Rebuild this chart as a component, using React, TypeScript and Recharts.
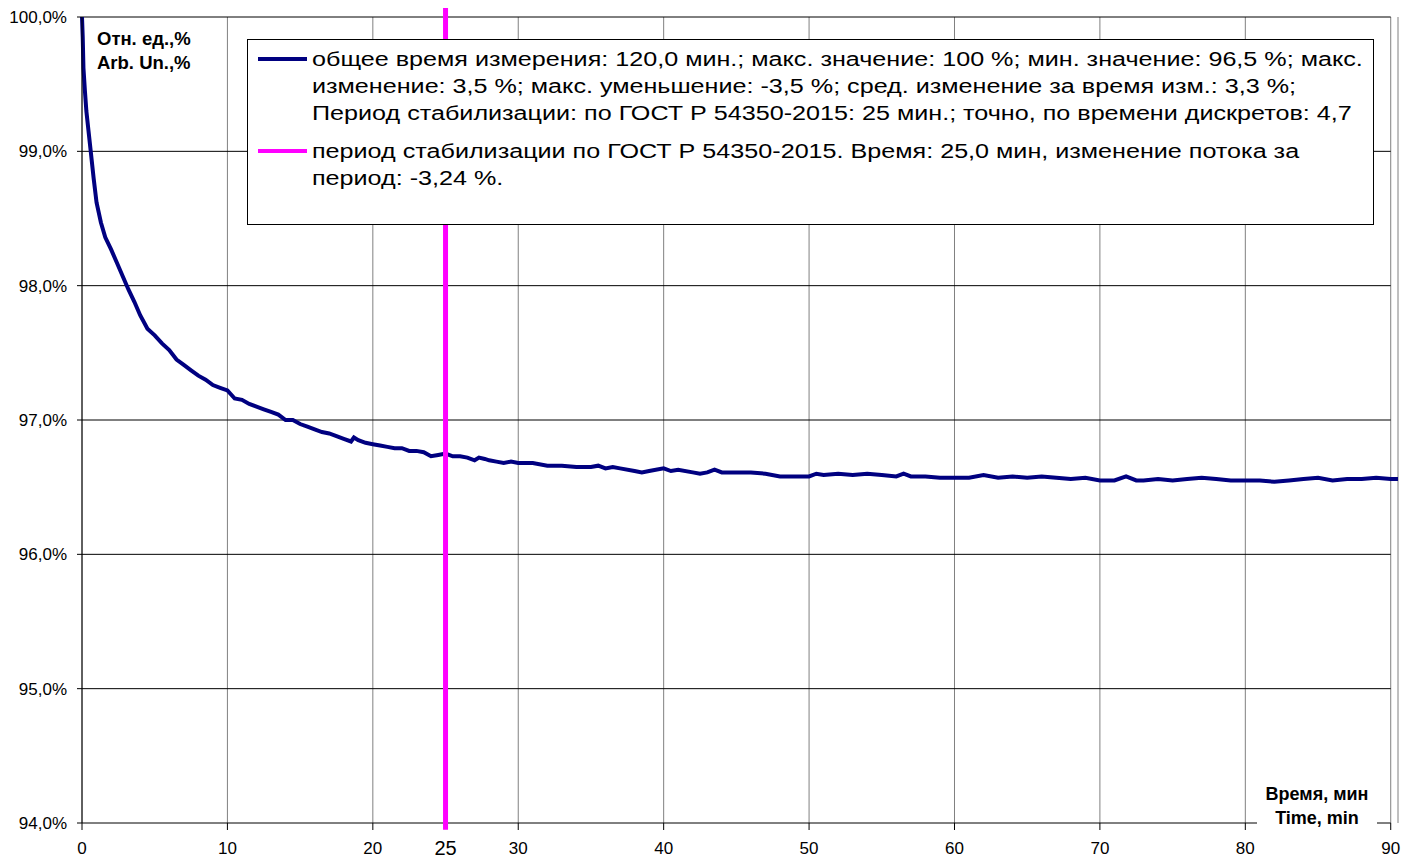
import React from 'react';
import { LineChart, Line, XAxis, YAxis, CartesianGrid, ReferenceLine } from 'recharts';

// ---- data ----
const times = [
  0, 0.05, 0.1, 0.2, 0.3, 0.45, 0.6, 0.8, 1.0, 1.3, 1.6, 2.0, 2.4, 2.8, 3.2, 3.6, 4.0, 4.5, 5.0, 5.5,
  6.0, 6.5, 7.0, 7.5, 8.0, 8.5, 9.0, 9.5, 10.0, 10.5, 11, 11.5, 12, 12.5, 13, 13.5, 14, 14.5, 15, 15.5,
  16, 16.5, 17, 17.5, 18, 18.5, 18.7, 19, 19.5, 20, 20.5, 21, 21.5, 22, 22.5, 23, 23.5, 24, 24.5, 25,
  25.5, 26, 26.5, 27, 27.3, 27.7, 28, 28.5, 29, 29.5, 30, 31, 32, 33, 34, 35, 35.5, 36, 36.5, 37,
  38, 38.5, 39, 40, 40.5, 41, 42, 42.5, 43, 43.5, 44, 45, 46, 47, 48, 49, 50, 50.5, 51, 52,
  53, 54, 55, 56, 56.5, 57, 58, 59, 60, 61, 62, 63, 64, 65, 66, 67, 68, 69, 70, 71,
  71.8, 72.5, 73, 74, 75, 76, 77, 78, 79, 80, 81, 82, 83, 84, 85, 86, 87, 88, 89, 90, 90.5,
];
const values = [
  100.0, 99.85, 99.62, 99.45, 99.3, 99.15, 99.0, 98.8, 98.62, 98.47, 98.36, 98.27, 98.17, 98.07, 97.97, 97.88, 97.78, 97.68, 97.63, 97.57,
  97.52, 97.45, 97.41, 97.37, 97.33, 97.3, 97.26, 97.24, 97.22, 97.16, 97.15, 97.12, 97.1, 97.08, 97.06, 97.04, 97.0, 97.0, 96.97, 96.95,
  96.93, 96.91, 96.9, 96.88, 96.86, 96.84, 96.87, 96.85, 96.83, 96.82, 96.81, 96.8, 96.79, 96.79, 96.77, 96.77, 96.76, 96.73, 96.74, 96.75,
  96.73, 96.73, 96.72, 96.7, 96.72, 96.71, 96.7, 96.69, 96.68, 96.69, 96.68, 96.68, 96.66, 96.66, 96.65, 96.65, 96.66, 96.64, 96.65, 96.64,
  96.62, 96.61, 96.62, 96.64, 96.62, 96.63, 96.61, 96.6, 96.61, 96.63, 96.61, 96.61, 96.61, 96.6, 96.58, 96.58, 96.58, 96.6, 96.59, 96.6,
  96.59, 96.6, 96.59, 96.58, 96.6, 96.58, 96.58, 96.57, 96.57, 96.57, 96.59, 96.57, 96.58, 96.57, 96.58, 96.57, 96.56, 96.57, 96.55, 96.55,
  96.58, 96.55, 96.55, 96.56, 96.55, 96.56, 96.57, 96.56, 96.55, 96.55, 96.55, 96.54, 96.55, 96.56, 96.57, 96.55, 96.56, 96.56, 96.57, 96.56, 96.56,
];
const xTicks = [0, 10, 20, 30, 40, 50, 60, 70, 80, 90];
const yTicks = [94, 95, 96, 97, 98, 99, 100];
const stabilizationTime = 25;
const stabilizationLabel = '25';
const seriesLegendLines = [
  'общее время измерения: 120,0 мин.; макс. значение: 100 %; мин. значение: 96,5 %; макс.',
  'изменение: 3,5 %; макс. уменьшение: -3,5 %; сред. изменение за время изм.: 3,3 %;',
  'Период стабилизации: по ГОСТ Р 54350-2015: 25 мин.; точно, по времени дискретов: 4,7',
];
const markerLegendLines = [
  'период стабилизации по ГОСТ Р 54350-2015. Время: 25,0 мин, изменение потока за',
  'период: -3,24 %.',
];
const yAxisTitle = ['Отн. ед.,%', 'Arb. Un.,%'];
const xAxisTitle = ['Время, мин', 'Time, min'];

const data = times.map((t, i) => ({ t, v: values[i] }));

const FONT = "Arial, 'Liberation Sans', sans-serif";
const NAVY = '#000080';
const MAGENTA = '#FF00FF';

const fmtY = (v: number) => v.toFixed(1).replace('.', ',') + '%';

const LegendEntry = ({ color, lines, gap }: { color: string; lines: string[]; gap: number }) => (
  <div style={{ display: 'flex', alignItems: 'flex-start', marginTop: gap }}>
    <div style={{ width: 49, height: 4, background: color, marginTop: 11, marginRight: 5, flex: 'none' }} />
    <div style={{ transform: 'scaleX(1.257)', transformOrigin: 'left top' }}>
      {lines.map((l, i) => (
        <div key={i} style={{ whiteSpace: 'nowrap', height: 27, lineHeight: '27px' }}>{l}</div>
      ))}
    </div>
  </div>
);

export default function App() {
  return (
    <div style={{ position: 'relative', width: 1415, height: 861, marginLeft: -8, marginTop: -8, background: '#fff', fontFamily: FONT }}>
      <LineChart width={1415} height={861} data={data} margin={{ top: 17, right: 17, bottom: 0, left: 0 }}>
        <CartesianGrid vertical horizontal={false} stroke="#808080" />
        {yTicks.map((y) => (
          <ReferenceLine key={y} segment={[{ x: 0, y }, { x: 90, y }]} stroke="#000" strokeWidth={1} />
        ))}
        <XAxis
          type="number"
          dataKey="t"
          domain={[0, 90.5]}
          ticks={xTicks}
          axisLine={false}
          tickLine={{ stroke: '#000' }}
          tickSize={7}
          tickMargin={12}
          height={38}
          tick={{ fontSize: 17, fill: '#000', fontFamily: FONT }}
          interval={0}
        />
        <YAxis
          type="number"
          domain={[94, 100]}
          ticks={yTicks}
          width={82}
          axisLine={{ stroke: '#000' }}
          tickLine={{ stroke: '#000' }}
          tickSize={5}
          tickMargin={10}
          tickFormatter={fmtY}
          tick={{ fontSize: 17, fill: '#000', fontFamily: FONT }}
          interval={0}
        />
        <Line
          type="linear"
          dataKey="v"
          stroke={NAVY}
          strokeWidth={4}
          dot={false}
          isAnimationActive={false}
        />
        <ReferenceLine
          segment={[{ x: stabilizationTime, y: 93.95 }, { x: stabilizationTime, y: 100.13 }]}
          stroke={MAGENTA}
          strokeWidth={5}
          ifOverflow="visible"
          label={(props: any) => {
            const vb = props.viewBox || {};
            return (
              <text x={vb.x} y={(vb.y || 0) + (vb.height || 0) + 25} textAnchor="middle" fontSize={20} fontFamily={FONT} fill="#000">
                {stabilizationLabel}
              </text>
            );
          }}
        />
      </LineChart>

      {/* Y axis title */}
      <div style={{ position: 'absolute', left: 97, top: 27, fontSize: 18.5, fontWeight: 'bold', lineHeight: '24px', color: '#000', whiteSpace: 'nowrap' }}>
        {yAxisTitle.map((l, i) => <div key={i}>{l}</div>)}
      </div>

      {/* X axis title */}
      <div style={{ position: 'absolute', left: 1257, top: 782, width: 120, fontSize: 18, fontWeight: 'bold', lineHeight: '24px', color: '#000', background: '#fff', textAlign: 'center', whiteSpace: 'nowrap' }}>
        {xAxisTitle.map((l, i) => <div key={i}>{l}</div>)}
      </div>

      {/* Legend */}
      <div style={{ position: 'absolute', left: 247, top: 39, width: 1127, height: 186, boxSizing: 'border-box', border: '1px solid #000', background: '#fff', paddingTop: 6, paddingLeft: 10, fontSize: 20, color: '#000', overflow: 'hidden' }}>
        <LegendEntry color={NAVY} lines={seriesLegendLines} gap={0} />
        <LegendEntry color={MAGENTA} lines={markerLegendLines} gap={10.5} />
      </div>
    </div>
  );
}
